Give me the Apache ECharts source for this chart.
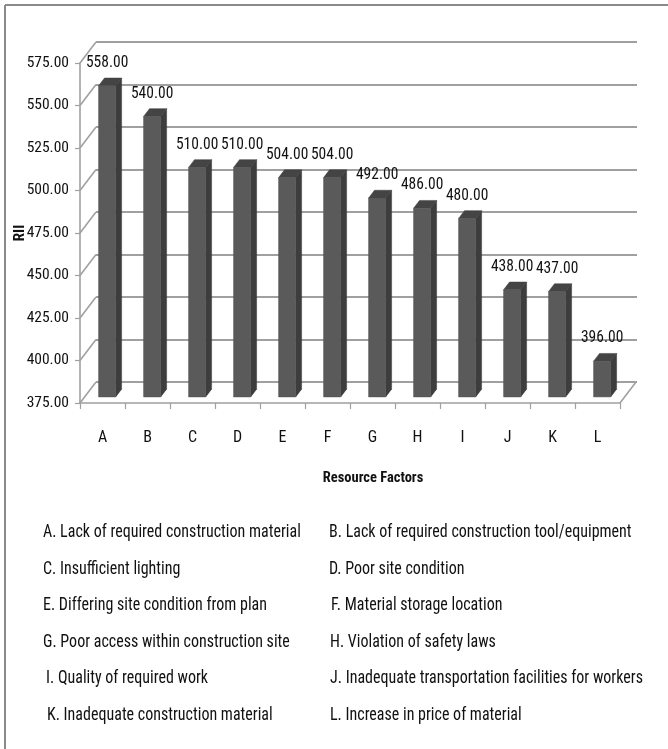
<!DOCTYPE html>
<html>
<head>
<meta charset="utf-8">
<title>Resource Factors – RII</title>
<script src="https://cdn.jsdelivr.net/npm/echarts@6/dist/echarts.min.js"></script>
<style>
  html, body { margin: 0; padding: 0; background: #fff; }
  #chart { width: 668px; height: 749px; }
</style>
</head>
<body>
<div id="chart"></div>
<script>
// ---- data ----
const categories = ['A', 'B', 'C', 'D', 'E', 'F', 'G', 'H', 'I', 'J', 'K', 'L'];
const riiValues = [558, 540, 510, 510, 504, 504, 492, 486, 480, 438, 437, 396];
const riiTicks = [375, 400, 425, 450, 475, 500, 525, 550, 575];
const factorNotesLeft = [
  'A. Lack of required construction material',
  'C. Insufficient lighting',
  'E. Differing site condition from plan',
  'G. Poor access within construction site',
  'I. Quality of required work',
  'K. Inadequate construction material'
];
const factorNotesRight = [
  'B. Lack of required construction tool/equipment',
  'D. Poor site condition',
  'F. Material storage location',
  'H. Violation of safety laws',
  'J. Inadequate transportation facilities for workers',
  'L. Increase in price of material'
];
const yMin = riiTicks[0];
const yMax = riiTicks[riiTicks.length - 1];
const yStep = riiTicks[1] - riiTicks[0];

// ---- look ----
const FONT = "'Roboto Condensed', Carlito, 'Liberation Sans', sans-serif";
const TEXT = '#111111';
const GRID_GRAY = '#a0a0a0';
const DEPTH_X = 16, DEPTH_Y = 21;           // perspective offset of the back wall
const BAR_D0 = 0.29, BAR_D1 = 0.66;         // bar depth span (fraction of wall depth)

const front = { left: 80, right: 48, top: 63, bottom: 346 };
const back = {
  left: front.left + DEPTH_X, right: front.right - DEPTH_X - 1,
  top: front.top - DEPTH_Y, bottom: front.bottom + DEPTH_Y
};

const chart = echarts.init(document.getElementById('chart'), null, { renderer: 'canvas' });

// 3D column: front face, side face and top face, with its value above
function renderBar(params, api) {
  const i = api.value(0);
  const v = api.value(1);
  const topPt = api.coord([i, v]);
  const basePt = api.coord([i, yMin]);
  const band = api.size([1, 0])[0];
  const w = band * 0.38;
  const x0 = topPt[0] - w / 2 + DEPTH_X * BAR_D0;
  const x1 = x0 + w;
  const yTop = topPt[1] - DEPTH_Y * BAR_D0;
  const yBot = basePt[1] - DEPTH_Y * BAR_D0;
  const ddx = DEPTH_X * (BAR_D1 - BAR_D0);
  const ddy = -DEPTH_Y * (BAR_D1 - BAR_D0);
  return {
    type: 'group',
    children: [
      {
        type: 'polygon',
        shape: { points: [[x1, yTop], [x1 + ddx, yTop + ddy], [x1 + ddx, yBot + ddy], [x1, yBot]] },
        style: { fill: '#3d3d3d', stroke: '#3a3a3a', lineWidth: 0.5 }
      },
      {
        type: 'polygon',
        shape: { points: [[x0, yTop], [x1, yTop], [x1 + ddx, yTop + ddy], [x0 + ddx, yTop + ddy]] },
        style: { fill: '#444444', stroke: '#3f3f3f', lineWidth: 0.5 }
      },
      {
        type: 'rect',
        shape: { x: x0, y: yTop, width: w, height: yBot - yTop },
        style: { fill: '#5a5a5a', stroke: '#505050', lineWidth: 0.5 }
      },
      {
        type: 'text',
        x: x0 + w / 2,
        y: yTop - 23,
        scaleY: 1.1,
        style: {
          text: v.toFixed(2),
          fill: TEXT,
          font: '15.5px ' + FONT,
          align: 'center',
          verticalAlign: 'middle'
        }
      }
    ]
  };
}

// left-wall edges from each front tick to the back wall, plus the floor's right edge
function renderWalls(params, api) {
  const v = api.value(1);
  const p = api.coord([0, v]);
  const cs = params.coordSys;
  const children = [{
    type: 'line',
    shape: { x1: cs.x, y1: p[1], x2: cs.x + DEPTH_X, y2: p[1] - DEPTH_Y },
    style: { stroke: GRID_GRAY, lineWidth: 1.6 }
  }];
  if (v === yMin) {
    const xr = cs.x + cs.width;
    children.push({
      type: 'line',
      shape: { x1: xr, y1: p[1], x2: xr + DEPTH_X, y2: p[1] - DEPTH_Y },
      style: { stroke: GRID_GRAY, lineWidth: 1.6 }
    });
  }
  return { type: 'group', children: children };
}

const noteRowsY = [533, 569.5, 606, 642.5, 679, 715.5];
const noteLeftX = [43, 43, 43, 43, 46, 47];
const noteRightX = [329, 329, 331, 330, 330, 330];

const graphics = [
  { type: 'line', shape: { x1: 5, y1: 5, x2: 668, y2: 5 }, style: { stroke: '#8a8a8a', lineWidth: 2 }, silent: true },
  { type: 'line', shape: { x1: 5, y1: 5, x2: 5, y2: 749 }, style: { stroke: '#8a8a8a', lineWidth: 2 }, silent: true }
];
function noteText(t, x, y) {
  return {
    type: 'text', x: x, y: y, scaleY: 1.12, silent: true,
    style: { text: t, fill: TEXT, font: '16px ' + FONT, align: 'left', verticalAlign: 'middle' }
  };
}
factorNotesLeft.forEach((t, k) => graphics.push(noteText(t, noteLeftX[k], noteRowsY[k])));
factorNotesRight.forEach((t, k) => graphics.push(noteText(t, noteRightX[k], noteRowsY[k])));

const option = {
  animation: false,
  backgroundColor: '#ffffff',
  textStyle: { fontFamily: FONT },
  grid: [
    Object.assign({ containLabel: false, outerBoundsMode: 'none' }, front),
    Object.assign({ containLabel: false, outerBoundsMode: 'none' }, back)
  ],
  xAxis: [
    {
      gridIndex: 0,
      type: 'category',
      data: categories,
      boundaryGap: true,
      name: 'Resource Factors',
      nameLocation: 'middle',
      nameGap: 68,
      nameMoveOverlap: false,
      nameTextStyle: {
        fontFamily: FONT, fontWeight: 'bold', fontSize: 14.5, color: TEXT,
        padding: [0, 0, 0, 46]
      },
      axisLine: { show: true, lineStyle: { color: GRID_GRAY, width: 1.6 } },
      axisTick: { show: true, alignWithLabel: false, length: 6, lineStyle: { color: GRID_GRAY, width: 1.2 } },
      axisLabel: { margin: 27, fontFamily: FONT, fontSize: 16, color: TEXT, interval: 0 },
      splitLine: { show: false }
    },
    {
      gridIndex: 1,
      type: 'category',
      data: categories,
      show: false
    }
  ],
  yAxis: [
    {
      gridIndex: 0,
      type: 'value',
      min: yMin,
      max: yMax,
      interval: yStep,
      name: 'RII',
      nameLocation: 'middle',
      nameRotate: 90,
      nameGap: 52,
      nameMoveOverlap: false,
      nameTextStyle: { fontFamily: FONT, fontWeight: 'bold', fontSize: 15, color: TEXT },
      axisLine: { show: true, lineStyle: { color: GRID_GRAY, width: 1.6 } },
      axisTick: { show: true, length: 5, lineStyle: { color: GRID_GRAY, width: 1.2 } },
      axisLabel: {
        margin: 11,
        fontFamily: FONT,
        fontSize: 15.5,
        color: TEXT,
        formatter: (val) => val.toFixed(2)
      },
      splitLine: { show: false }
    },
    {
      gridIndex: 1,
      type: 'value',
      min: yMin,
      max: yMax,
      interval: yStep,
      axisLine: { show: false },
      axisTick: { show: false },
      axisLabel: { show: false },
      splitLine: { show: true, lineStyle: { color: GRID_GRAY, width: 2 } }
    }
  ],
  series: [
    {
      type: 'custom',
      name: 'walls',
      xAxisIndex: 0,
      yAxisIndex: 0,
      silent: true,
      clip: false,
      z: 1,
      renderItem: renderWalls,
      data: riiTicks.map((t) => [0, t])
    },
    {
      type: 'custom',
      name: 'RII',
      xAxisIndex: 0,
      yAxisIndex: 0,
      clip: false,
      z: 5,
      renderItem: renderBar,
      data: riiValues.map((v, i) => [i, v])
    }
  ],
  graphic: graphics
};

chart.setOption(option);
</script>
</body>
</html>
